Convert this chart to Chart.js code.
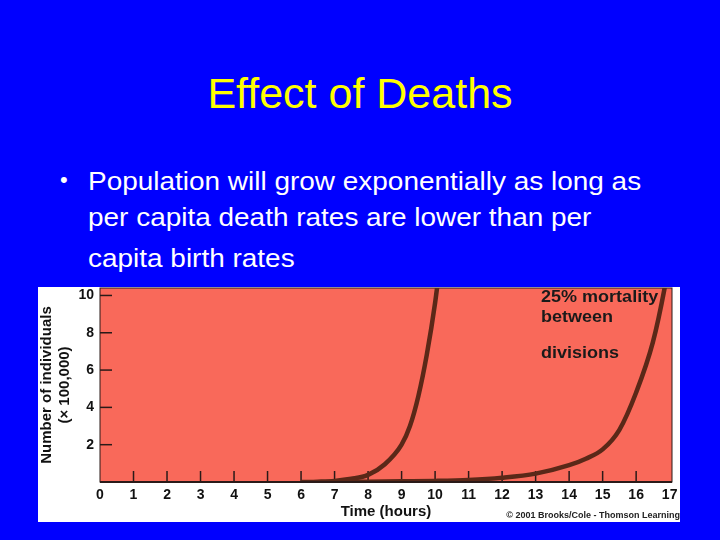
<!DOCTYPE html>
<html>
<head>
<meta charset="utf-8">
<script src="https://cdn.jsdelivr.net/npm/chart.js@4.4.1/dist/chart.umd.min.js"></script>
<style>
  html, body { margin: 0; padding: 0; }
  body { width: 720px; height: 540px; background: #0000ff; position: relative; overflow: hidden;
         font-family: "Liberation Sans", Arial, sans-serif; }
  .title { position: absolute; left: 0; width: 720px; top: 68px; text-align: center;
           color: #ffff00; font-size: 43px; line-height: 50px; }
  .line { position: absolute; left: 88px; color: #ffffff; font-size: 26px; line-height: 30px;
          white-space: nowrap; transform: scaleX(1.075); transform-origin: left top; }
  .dot { position: absolute; left: 60px; top: 165px; color: #ffffff; font-size: 22px; line-height: 30px; }
  .box { position: absolute; left: 38px; top: 287px; width: 642px; height: 235px; background: #ffffff; }
  .note { position: absolute; left: 541px; color: #1a1a1a; font-weight: bold; font-size: 17px; line-height: 20px;
          white-space: nowrap; transform: scaleX(1.06); transform-origin: left top; }
  .copy { position: absolute; right: 40px; top: 510px; color: #222; font-weight: bold; font-size: 9px; }
</style>
</head>
<body>
<div class="title">Effect of Deaths</div>
<div class="dot">•</div>
<div class="line" style="top:166px">Population will grow exponentially as long as</div>
<div class="line" style="top:202px">per capita death rates are lower than per</div>
<div class="line" style="top:243px">capita birth rates</div>
<div class="box"><canvas id="chart" width="642" height="235"></canvas></div>
<div class="note" style="top:287px">25% mortality</div>
<div class="note" style="top:307px">between</div>
<div class="note" style="top:343px">divisions</div>
<div class="copy">© 2001 Brooks/Cole - Thomson Learning</div>

<script>
// Valores (número de indivíduos x 100.000)
const hoursNoDeath = [6, 6.5, 7, 7.5, 8, 8.5, 9, 9.25, 9.5, 9.75, 10, 10.2];
const popNoDeath = [0, 0.02, 0.06, 0.17, 0.38, 0.95, 2.0, 3.0, 4.6, 6.8, 9.6, 12.5];

const hoursDeath = [7, 8, 9, 10, 11, 12, 13, 14, 14.5, 15, 15.5, 16, 16.5, 16.85, 17];
const popDeath = [0, 0.02, 0.04, 0.06, 0.11, 0.23, 0.45, 0.9, 1.25, 1.75, 2.8, 4.8, 7.5, 10.4, 12];

const yTickValues = [2, 4, 6, 8, 10];

const plotColor = '#f9695a';
const curveColor = '#5a2818';
const inkColor = '#2a1a18';

function toPoints(xs, ys) {
    return xs.map((x, i) => ({ x: x, y: ys[i] }));
}

// Fundo vermelho, bordas e marcas de escala por dentro da área
const plotFrame = {
    id: 'plotFrame',
    beforeDatasetsDraw(chart) {
        const { ctx, chartArea: a, scales } = chart;
        ctx.save();
        ctx.fillStyle = plotColor;
        ctx.fillRect(a.left, a.top, a.right - a.left, a.bottom - a.top);
        ctx.strokeStyle = inkColor;
        ctx.lineWidth = 1.5;
        yTickValues.forEach(v => {
            const y = scales.y.getPixelForValue(v);
            ctx.beginPath();
            ctx.moveTo(a.left, y);
            ctx.lineTo(a.left + 12, y);
            ctx.stroke();
        });
        for (let h = 1; h <= 16; h++) {
            const x = scales.x.getPixelForValue(h);
            ctx.beginPath();
            ctx.moveTo(x, a.bottom);
            ctx.lineTo(x, a.bottom - 11);
            ctx.stroke();
        }
        ctx.lineWidth = 1;
        ctx.strokeRect(a.left, a.top, a.right - a.left, a.bottom - a.top);
        ctx.restore();
    },
    afterDatasetsDraw(chart) {
        const { ctx, chartArea: a } = chart;
        ctx.save();
        ctx.strokeStyle = inkColor;
        ctx.lineWidth = 2;
        ctx.beginPath();
        ctx.moveTo(a.left, a.bottom);
        ctx.lineTo(a.right, a.bottom);
        ctx.stroke();
        ctx.restore();
    }
};

const boldFont = { family: '"Liberation Sans", Arial, sans-serif', weight: 'bold' };

new Chart(document.getElementById('chart'), {
    type: 'line',
    data: {
        datasets: [
            { data: toPoints(hoursNoDeath, popNoDeath) },
            { data: toPoints(hoursDeath, popDeath) }
        ]
    },
    options: {
        responsive: false,
        animation: false,
        layout: { padding: { left: 0, right: 8, top: 1, bottom: 0 } },
        elements: {
            line: { borderColor: curveColor, borderWidth: 4.5, cubicInterpolationMode: 'monotone' },
            point: { radius: 0 }
        },
        datasets: { line: { clip: 0 } },
        plugins: { legend: { display: false }, tooltip: { enabled: false } },
        scales: {
            x: {
                type: 'linear',
                min: 0,
                max: 17.07,
                border: { display: false },
                grid: { display: false, drawTicks: false },
                ticks: {
                    stepSize: 1, includeBounds: false, padding: 5, maxRotation: 0, autoSkip: false,
                    color: '#111', font: { ...boldFont, size: 14 }
                },
                title: {
                    display: true, text: 'Time (hours)', color: '#111',
                    font: { ...boldFont, size: 15 }, padding: { top: 0, bottom: 1 }
                },
                afterFit(scale) {
                    scale.height = 40;
                    scale.paddingLeft = 0;
                    scale.paddingRight = 0;
                }
            },
            y: {
                min: 0,
                max: 10.4,
                border: { display: false },
                grid: { display: false, drawTicks: false },
                ticks: {
                    stepSize: 2, includeBounds: false, padding: 6, color: '#111',
                    font: { ...boldFont, size: 14 },
                    callback: v => (yTickValues.includes(v) ? v : '')
                },
                title: {
                    display: true, text: ['Number of individuals', '(× 100,000)'], color: '#111',
                    font: { ...boldFont, size: 15, lineHeight: 1.2 }, padding: { top: 0, bottom: 0 }
                },
                afterFit(scale) {
                    scale.width = 62;
                    scale.paddingTop = 0;
                    scale.paddingBottom = 0;
                }
            }
        }
    },
    plugins: [plotFrame]
});
</script>
</body>
</html>
